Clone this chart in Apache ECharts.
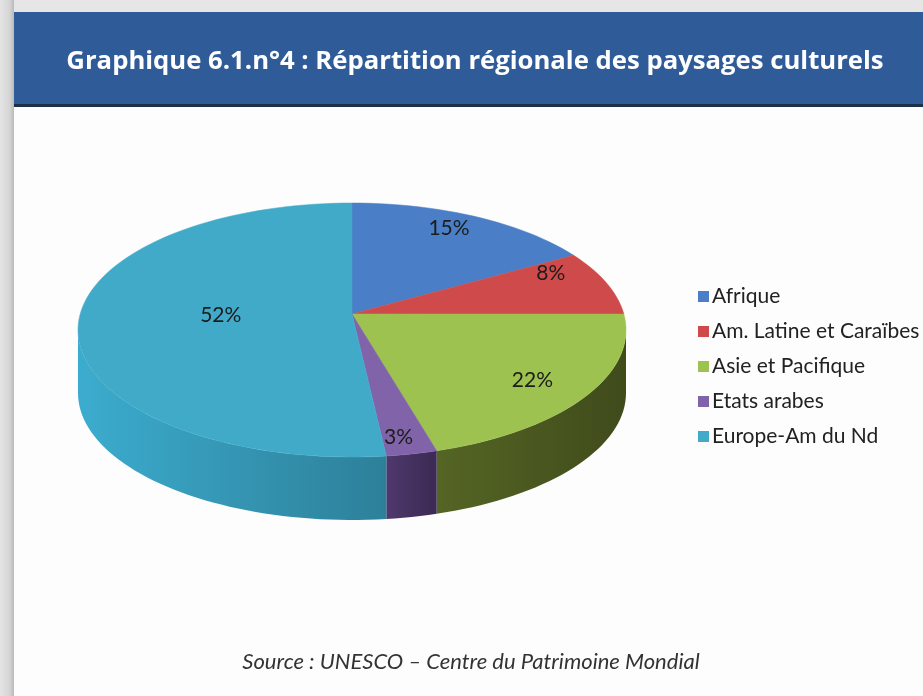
<!DOCTYPE html>
<html>
<head>
<meta charset="utf-8">
<script src="https://cdn.jsdelivr.net/npm/echarts@6/dist/echarts.min.js"></script>
<style>
html, body { margin: 0; padding: 0; background: #fff; }
#box { width: 923px; height: 696px; }
</style>
</head>
<body>
<div id="box"></div>
<script>
// données du graphique
var categories = ['Afrique', 'Am. Latine et Caraïbes', 'Asie et Pacifique', 'Etats arabes', 'Europe-Am du Nd'];
var shares = [15, 8, 22, 3, 52];

// couleurs du dessus et des côtés
var topColors = ['#4a7ec6', '#cf4b4b', '#9dc24f', '#8163aa', '#41aac9'];
var sideColors = ['#2c5186', '#8a2b2b', '#3f4b1b', '#3b2a52', '#2d8099'];

// géométrie du camembert 3D
var cx = 352, cy = 330, rx = 274, ry = 127, depth = 63, apexY = 314;

var total = shares.reduce(function (a, b) { return a + b; }, 0);
var starts = [];
var acc = 0;
for (var i = 0; i < shares.length; i++) {
    starts.push(acc / total * 360);
    acc += shares[i];
}

function rim(deg, dy) {
    var r = deg * Math.PI / 180;
    return [cx + rx * Math.sin(r), cy - ry * Math.cos(r) + (dy || 0)];
}

function arcPoints(a0, a1, dy) {
    var pts = [];
    var n = Math.max(2, Math.ceil((a1 - a0) / 2));
    for (var k = 0; k <= n; k++) {
        pts.push(rim(a0 + (a1 - a0) * k / n, dy));
    }
    return pts;
}

function makeRender(idx) {
    return function (params, api) {
        var a0 = starts[idx];
        var a1 = a0 + shares[idx] / total * 360;
        var children = [];
        // côté visible (moitié avant)
        var s0 = Math.max(a0, 90), s1 = Math.min(a1, 270);
        if (s1 > s0) {
            var up = arcPoints(s0, s1, 0);
            var down = arcPoints(s0, s1, depth).reverse();
            children.push({
                type: 'polygon',
                shape: { points: up.concat(down) },
                style: {
                    fill: new echarts.graphic.LinearGradient(1, 0, 0, 0, [
                        { offset: 0, color: sideColors[idx] },
                        { offset: 1, color: echarts.color.lift(sideColors[idx], -0.35) }
                    ])
                }
            });
        }
        // dessus
        var pts = [[cx, apexY]].concat(arcPoints(a0, a1, 0));
        children.push({
            type: 'polygon',
            shape: { points: pts },
            style: { fill: topColors[idx], stroke: topColors[idx], lineWidth: 0.5 }
        });
        // étiquette
        var mid = (a0 + a1) / 2 * Math.PI / 180;
        var f = shares[idx] > 40 ? 0.48 : 0.78;
        var c = Math.cos(mid);
        var lx = cx + rx * f * Math.sin(mid);
        var ly = apexY - 4 - ry * f * c * (c > 0 ? 0.87 : 1.32) - (c > 0.2 ? 5 : 0);
        children.push({
            type: 'text',
            z2: 10,
            style: {
                x: lx, y: ly,
                text: shares[idx] + '%',
                fill: '#1c1c1c',
                font: '21px Lato',
                align: 'center',
                verticalAlign: 'middle'
            }
        });
        return { type: 'group', children: children };
    };
}

var series = [];
for (var j = 0; j < categories.length; j++) {
    series.push({
        name: categories[j],
        type: 'custom',
        coordinateSystem: 'none',
        color: topColors[j],
        silent: true,
        renderItem: makeRender(j),
        data: [shares[j]]
    });
}

var myChart = echarts.init(document.getElementById('box'));
var option = {
    backgroundColor: '#ffffff',
    animation: false,
    legend: {
        orient: 'vertical',
        left: 693,
        top: 281,
        itemWidth: 11,
        itemHeight: 11,
        itemGap: 14,
        icon: 'rect',
        textStyle: { color: '#222', fontSize: 21, lineHeight: 21, fontFamily: 'Lato', padding: [0, 0, 0, -2] },
        data: categories
    },
    graphic: [
        { type: 'rect', z: -10, shape: { x: 0, y: 0, width: 923, height: 696 }, style: { fill: '#fdfdfd' } },
        { type: 'rect', z: -9, shape: { x: 0, y: 0, width: 923, height: 12 }, style: { fill: '#e6e6e6' } },
        { type: 'rect', z: -9, shape: { x: 0, y: 0, width: 14, height: 696 },
          style: { fill: new echarts.graphic.LinearGradient(0, 0, 1, 0, [
              { offset: 0, color: '#e4e4e4' }, { offset: 0.7, color: '#d4d4d4' }, { offset: 1, color: '#b9b9b9' }]) } },
        { type: 'rect', z: -8, shape: { x: 14, y: 12, width: 909, height: 94 }, style: { fill: '#2f5c99' } },
        { type: 'rect', z: -8, shape: { x: 14, y: 104, width: 909, height: 3 }, style: { fill: '#1e2f48' } },
        { type: 'text', x: 475, y: 62,
          style: { text: 'Graphique 6.1.n°4 : Répartition régionale des paysages culturels', fill: '#ffffff',
                   font: 'bold 25.7px "Open Sans"', align: 'center', verticalAlign: 'middle' } },
        { type: 'text', x: 471, y: 662,
          style: { text: 'Source : UNESCO – Centre du Patrimoine Mondial', fill: '#333',
                   font: 'italic 22px Lato', align: 'center', verticalAlign: 'middle' } }
    ],
    series: series
};
myChart.setOption(option);
</script>
</body>
</html>
